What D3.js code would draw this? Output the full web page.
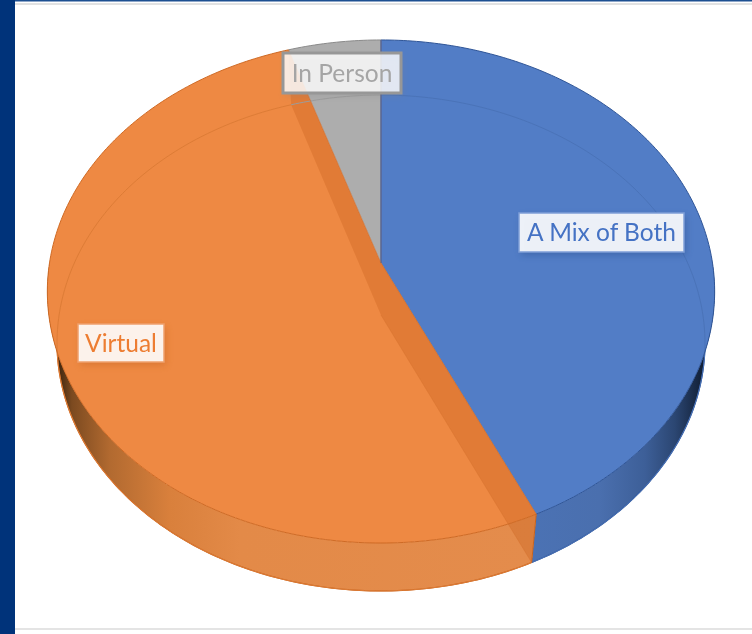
<!DOCTYPE html>
<html><head><meta charset="utf-8">
<script src="https://cdn.jsdelivr.net/npm/d3@7/dist/d3.min.js"></script>
<style>html,body{margin:0;padding:0;background:#fff;overflow:hidden}svg{display:block}</style>
</head><body><svg id="c" width="752" height="634"></svg>
<script>
const categories = ["A Mix of Both", "Virtual", "In Person"];
const values = [43.1, 51.9, 5];
const faceColors = ["#527dc6", "#ee8943", "#adadad"];
const rimColors = ["#2f5597", "#cf6a24", "#8a8a8a"];
const innerLineColors = ["#4a73b8", "#dd7c36", "#9c9c9c"];
const labelText = ["#4472c4", "#ed7d31", "#a5a5a5"];
const labelBorder = ["#7f9fd8", "#f0a06c", "#979797"];

const svg = d3.select("#c");
const W = 752, H = 634;
const defs = svg.append("defs");

// perspective projection of a unit disc to the screen
const planes = {
  top: {cx: 381, cy: 263, m: 331.5, k: 248.3, p: 0.1133},
  bottom: {cx: 381, cy: 315, m: 321.9, k: 244.8, p: 0.1129}
};
const project = (pl, a, r = 1) => {
  const c = Math.cos(a) * r, s = Math.sin(a) * r, d = 1 + pl.p * c;
  return [pl.cx + pl.m * s / d, pl.cy - pl.k * c / d];
};
const arcPts = (pl, a0, a1) => {
  const n = Math.max(2, Math.ceil(Math.abs(a1 - a0) / 0.015));
  return d3.range(n + 1).map(i => project(pl, a0 + (a1 - a0) * i / n));
};
const line = d3.line();
const closed = pts => line(pts) + "Z";

const arcs = d3.pie().sort(null).value(d => d)(values);

// page frame
svg.append("rect").attr("width", W).attr("height", H).attr("fill", "#fff");

// gradients for the side wall
function grad(id, stops) {
  const g = defs.append("linearGradient").attr("id", id)
    .attr("gradientUnits", "userSpaceOnUse").attr("x1", 0).attr("x2", W).attr("y1", 0).attr("y2", 0);
  stops.forEach(([x, col]) => g.append("stop").attr("offset", x / W).attr("stop-color", col));
}
grad("wallBlue", [[530, "#4b72b4"], [600, "#4a6fae"], [645, "#3d5f98"], [675, "#2b4672"], [700, "#14233c"], [712, "#0a1220"]]);
grad("wallOrange", [[56, "#35200c"], [72, "#7c4a20"], [110, "#b26a30"], [170, "#d9803c"], [240, "#e38a48"], [535, "#e48c4c"]]);

const blur = defs.append("filter").attr("id", "shadow").attr("x", "-20%").attr("y", "-30%").attr("width", "140%").attr("height", "170%");
blur.append("feGaussianBlur").attr("stdDeviation", 3.5);
const soft = defs.append("filter").attr("id", "soft").attr("x", "-5%").attr("y", "-20%").attr("width", "110%").attr("height", "140%");
soft.append("feGaussianBlur").attr("stdDeviation", 0.35);

// visible side walls: blue and orange front portions
const wallIds = ["wallBlue", "wallOrange"];
[0, 1].forEach(i => {
  const a = arcs[i];
  const a0 = Math.max(a.startAngle, Math.PI * 0.5);
  const a1 = Math.min(a.endAngle, Math.PI * 1.5);
  const pts = arcPts(planes.top, a0, a1).concat(arcPts(planes.bottom, a1, a0));
  svg.append("path").attr("d", closed(pts)).attr("fill", `url(#${wallIds[i]})`);
  svg.append("path").attr("d", line(arcPts(planes.bottom, a0, a1)))
    .attr("fill", "none").attr("stroke", i ? "#c9641e" : "#2f5597").attr("stroke-width", 1.2);
});

// top faces
arcs.forEach((a, i) => {
  const pts = [project(planes.top, 0, 0)].concat(arcPts(planes.top, a.startAngle, a.endAngle));
  svg.append("path").attr("d", closed(pts)).attr("fill", faceColors[i]);
});

// interior walls of the orange wedge, seen through the face
const orange = arcs[1];
const stripColor = "#c8611c";
[orange.startAngle, orange.endAngle].forEach(ang => {
  const pts = [project(planes.top, 0, 0), project(planes.top, ang), project(planes.bottom, ang), project(planes.bottom, 0, 0)];
  svg.append("path").attr("d", closed(pts)).attr("fill", stripColor).attr("fill-opacity", 0.34);
});
svg.append("path")
  .attr("d", line([project(planes.bottom, 0, 0), project(planes.bottom, orange.startAngle)]))
  .attr("fill", "none").attr("stroke", "#d4702c").attr("stroke-width", 0.8).attr("stroke-opacity", .5);

// ring of the far disc seen through the faces
arcs.forEach((a, i) => {
  svg.append("path").attr("d", line(arcPts(planes.bottom, a.startAngle, a.endAngle)))
    .attr("fill", "none").attr("stroke", innerLineColors[i]).attr("stroke-width", 1);
});

// rims and slice seams
arcs.forEach((a, i) => {
  svg.append("path").attr("d", line(arcPts(planes.top, a.startAngle, a.endAngle)))
    .attr("fill", "none").attr("stroke", rimColors[i]).attr("stroke-width", 1);
});
svg.append("path").attr("d", line([project(planes.top, arcs[0].startAngle), project(planes.top, 0, 0), project(planes.top, arcs[0].endAngle)]))
  .attr("fill", "none").attr("stroke", "#c9682a").attr("stroke-width", 1).attr("stroke-opacity", .75);
svg.append("path").attr("d", line([project(planes.top, arcs[0].startAngle), project(planes.top, 0, 0)]))
  .attr("fill", "none").attr("stroke", "#3f66ab").attr("stroke-width", 1.2);
svg.append("path").attr("d", line([project(planes.top, arcs[1].endAngle), project(planes.top, 0, 0)]))
  .attr("fill", "none").attr("stroke", "#c9682a").attr("stroke-width", .8).attr("stroke-opacity", .7);
svg.append("path").attr("d", line([project(planes.top, arcs[0].endAngle), project(planes.bottom, arcs[0].endAngle)]))
  .attr("fill", "none").attr("stroke", "#c9641e").attr("stroke-width", 1);

// data labels
const boxes = [
  {x: 519, y: 213, w: 165, h: 39, sw: 1.5},
  {x: 78, y: 324, w: 86, h: 38, sw: 1.5},
  {x: 283, y: 53, w: 118, h: 40, sw: 3}
];
categories.forEach((name, i) => {
  const b = boxes[i];
  const g = svg.append("g");
  g.append("rect").attr("x", b.x + 2).attr("y", b.y + 3).attr("width", b.w).attr("height", b.h)
    .attr("fill", d3.color(rimColors[i]).darker(.2)).attr("opacity", i === 2 ? .25 : .45).attr("filter", "url(#shadow)");
  g.append("rect").attr("x", b.x).attr("y", b.y).attr("width", b.w).attr("height", b.h)
    .attr("fill", "#fff").attr("fill-opacity", i === 2 ? .82 : .9)
    .attr("stroke", labelBorder[i]).attr("stroke-width", b.sw);
  g.append("text").attr("x", b.x + b.w / 2).attr("y", b.y + b.h / 2 + 8.5)
    .attr("text-anchor", "middle").attr("font-family", "Lato, 'Open Sans', sans-serif")
    .attr("font-size", 24.5).attr("fill", labelText[i]).attr("filter", "url(#soft)").text(name);
});

// surrounding frame
svg.append("rect").attr("x", 0).attr("y", 0).attr("width", 15).attr("height", H).attr("fill", "#00337a");
svg.append("rect").attr("x", 15).attr("y", 0).attr("width", W - 15).attr("height", 1.5).attr("fill", "#1d4f91");
svg.append("rect").attr("x", 15).attr("y", 3).attr("width", W - 15).attr("height", 2).attr("fill", "#e2e2e2");
svg.append("rect").attr("x", 15).attr("y", 628).attr("width", W - 15).attr("height", 2).attr("fill", "#e4e4e4");
</script></body></html>
